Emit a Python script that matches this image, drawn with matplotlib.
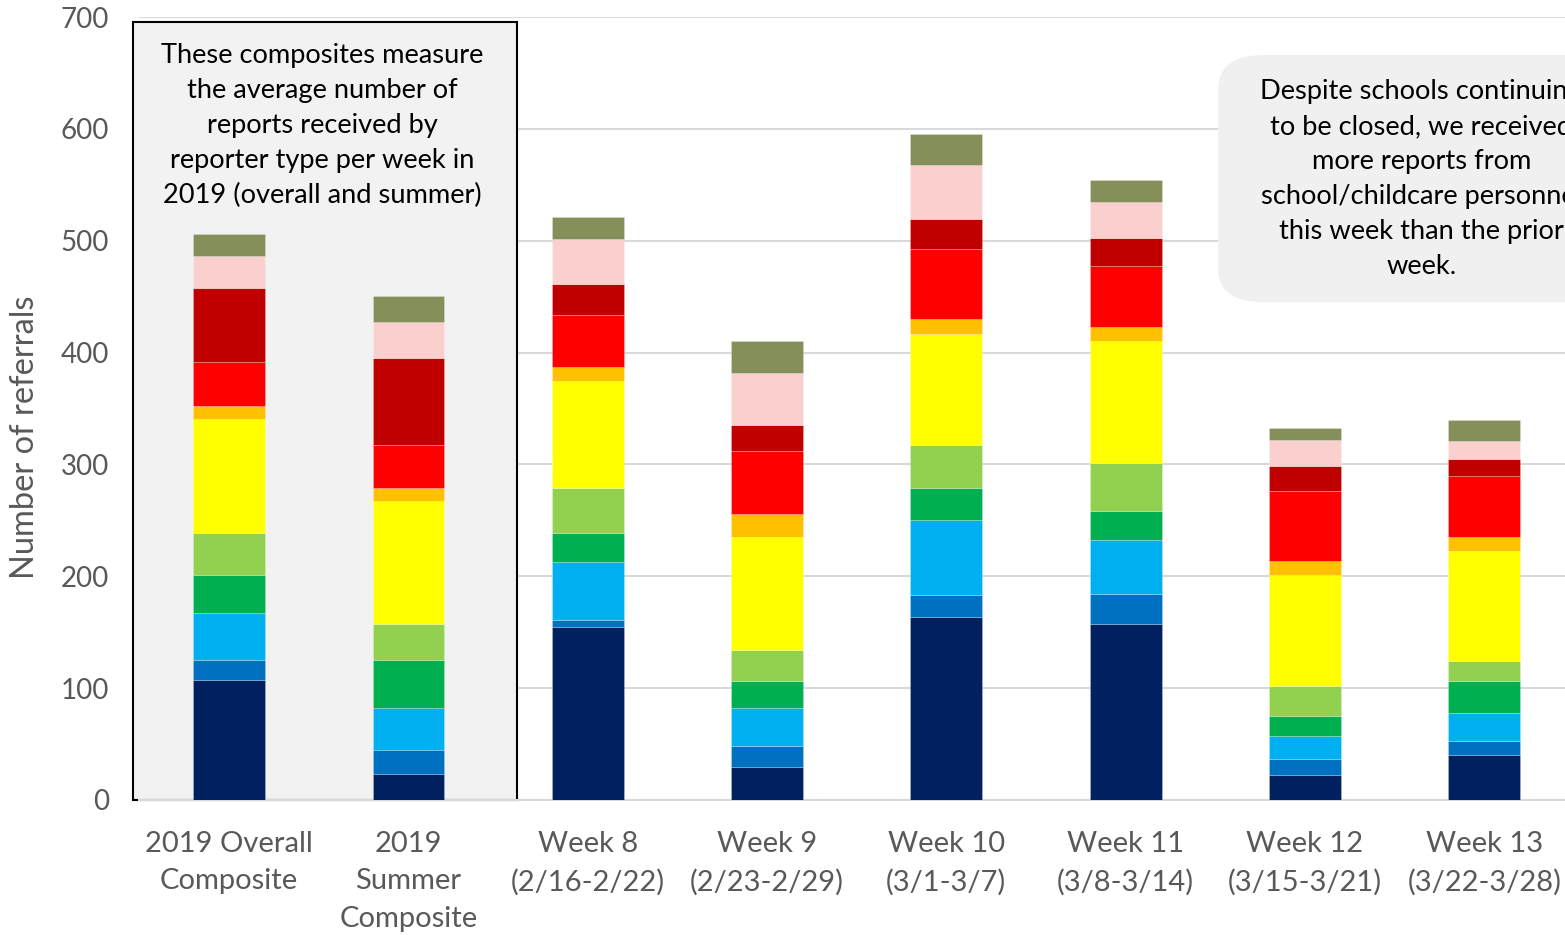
import matplotlib.pyplot as plt
from matplotlib.patches import Rectangle, FancyBboxPatch

plt.rcParams['font.family'] = ['Lato', 'DejaVu Sans']

categories = ['2019 Overall\nComposite', '2019\nSummer\nComposite',
              'Week 8\n(2/16-2/22)', 'Week 9\n(2/23-2/29)', 'Week 10\n(3/1-3/7)',
              'Week 11\n(3/8-3/14)', 'Week 12\n(3/15-3/21)', 'Week 13\n(3/22-3/28)']

# reporter types, stacked bottom to top
navy       = [107, 23, 155, 29.5, 164, 157, 22, 40]
blue       = [18, 22, 6, 19, 19, 27, 15, 13]
cyan       = [42, 37, 52, 34, 67, 48, 20, 24.5]
green      = [34, 43, 26, 23.5, 29, 26.5, 18, 29]
lightgreen = [38, 32, 40, 28, 38, 43, 27, 17.5]
yellow     = [102, 110, 95.5, 101, 100, 109, 99, 99]
orange     = [11, 12, 13, 21, 13, 12, 13, 12]
red        = [40, 38, 46.5, 56, 63, 54.5, 62, 54.5]
darkred    = [66, 78, 27.5, 23.5, 26, 25.5, 22.5, 15]
pink       = [28.5, 32, 40, 46, 49, 32, 23.5, 16.5]
olive      = [19.5, 24, 19.5, 29, 27.5, 20, 11, 18.5]

series = [navy, blue, cyan, green, lightgreen, yellow, orange, red, darkred, pink, olive]
colors = ['#002060', '#0070C0', '#00B0F0', '#00B050', '#92D050', '#FFFF00',
          '#FFC000', '#FF0000', '#C00000', '#FBCFCD', '#848F59']

fig = plt.figure(figsize=(15.65, 9.35), dpi=100)
ax = fig.add_axes([139.4/1565, 135/935, (1574-139.4)/1565, 783/935])

x = list(range(len(categories)))
bottom = [0]*len(categories)
for vals, c in zip(series, colors):
    ax.bar(x, vals, 0.4, bottom=bottom, color=c, zorder=3, linewidth=0.6, edgecolor='#ffffff40')
    bottom = [b + v for b, v in zip(bottom, vals)]

ax.set_xlim(-0.5, 7.5)
ax.set_ylim(0, 700)
ax.set_yticks(range(0, 701, 100))
ax.yaxis.grid(True, color='#D9D9D9', linewidth=1.5, zorder=2)
ax.set_axisbelow(True)
for s in ['top', 'right', 'left']:
    ax.spines[s].set_visible(False)
ax.spines['bottom'].set_color('#D9D9D9')
ax.spines['bottom'].set_linewidth(1.5)
ax.tick_params(length=0, colors='#595959', labelsize=20, pad=22)
ax.tick_params(axis='x', pad=22, labelsize=21)
ax.set_xticks(x)
ax.set_xticklabels(categories, linespacing=1.56)
fig.text(25/1565, 1 - 437/935, 'Number of referrals', rotation=90, fontsize=23.5,
         color='#595959', ha='center', va='center')

# composite shading box
ax.add_patch(Rectangle((-0.536, 0), 2.142, 695.5, facecolor='#F2F2F2', edgecolor='black',
                       linewidth=1.5, zorder=1, clip_on=False))
ax.text(0.52, 603, 'These composites measure\nthe average number of\nreports received by\n'
        'reporter type per week in\n2019 (overall and summer)',
        ha='center', va='center', fontsize=19.6, linespacing=1.5, color='black', zorder=4)

# callout box on the right
ax.add_patch(FancyBboxPatch((5.516, 445), 2.264, 221, boxstyle='round,pad=0,rounding_size=0.25',
                            mutation_aspect=120, facecolor='#F0F0F0', edgecolor='none',
                            zorder=4, clip_on=False))
ax.text(6.648, 555, 'Despite schools continuing\nto be closed, we received\nmore reports from\n'
        'school/childcare personnel\nthis week than the prior\nweek.',
        ha='center', va='center', fontsize=19.6, linespacing=1.5, color='black', zorder=5,
        clip_on=False)

fig.savefig('out.png', dpi=100)
